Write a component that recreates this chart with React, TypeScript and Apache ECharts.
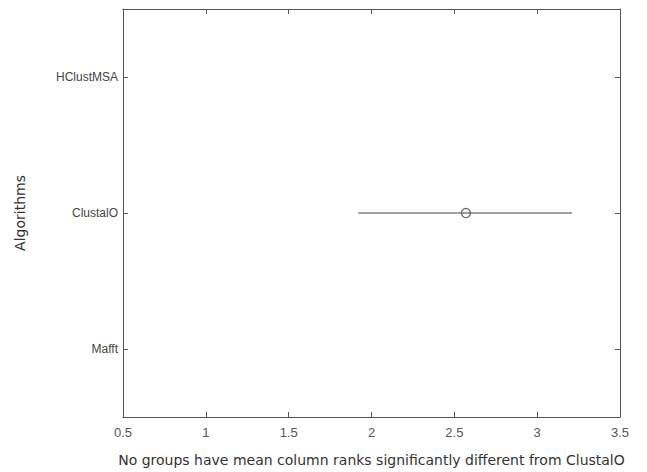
import React, { useEffect, useRef } from "react";
import * as echarts from "echarts";

const categories = ["Mafft", "ClustalO", "HClustMSA"];
const xTicks = [0.5, 1, 1.5, 2, 2.5, 3, 3.5];
const intervalGroup = "ClustalO";
const intervalLow = 1.92;
const intervalHigh = 3.21;
const meanRank = 2.57;
const xAxisTitle = "No groups have mean column ranks significantly different from ClustalO";
const yAxisTitle = "Algorithms";

export default function App() {
  const ref = useRef<HTMLDivElement>(null);
  useEffect(() => {
    document.body.style.margin = "0";
    const chart = echarts.init(ref.current!, null, { renderer: "svg" });
    const font = "'Liberation Sans', Arial, sans-serif";
    const titleFont = "'DejaVu Sans', sans-serif";
    const lineStyle = { color: "#555", width: 1 };
    chart.setOption({
      animation: false,
      backgroundColor: "#fff",
      grid: { left: 123, right: 27, top: 9, bottom: 50, containLabel: false },
      xAxis: [
        {
          type: "value",
          min: xTicks[0],
          max: xTicks[xTicks.length - 1],
          interval: 0.5,
          position: "bottom",
          axisLine: { show: true, lineStyle },
          axisTick: { show: true, inside: true, length: 5, lineStyle },
          splitLine: { show: false },
          axisLabel: { color: "#555", fontSize: 13, fontFamily: font, margin: 9 },
          name: xAxisTitle,
          nameLocation: "middle",
          nameGap: 36,
          nameTextStyle: { color: "#333", fontSize: 14, fontFamily: titleFont },
        },
        {
          type: "value",
          min: xTicks[0],
          max: xTicks[xTicks.length - 1],
          interval: 0.5,
          position: "top",
          axisLine: { show: true, lineStyle },
          axisTick: { show: true, inside: true, length: 5, lineStyle },
          splitLine: { show: false },
          axisLabel: { show: false },
        },
      ],
      yAxis: [
        {
          type: "category",
          data: categories,
          position: "left",
          boundaryGap: true,
          axisLine: { show: true, lineStyle },
          axisTick: { show: true, inside: true, length: 5, alignWithLabel: true, lineStyle },
          splitLine: { show: false },
          axisLabel: { color: "#444", fontSize: 12, fontFamily: font, margin: 5 },
          name: yAxisTitle,
          nameLocation: "middle",
          nameGap: 96,
          nameRotate: 90,
          nameTextStyle: { color: "#333", fontSize: 14, fontFamily: titleFont },
        },
        {
          type: "category",
          data: categories,
          position: "right",
          boundaryGap: true,
          axisLine: { show: true, lineStyle },
          axisTick: { show: true, inside: true, length: 5, alignWithLabel: true, lineStyle },
          splitLine: { show: false },
          axisLabel: { show: false },
        },
      ],
      series: [
        {
          type: "line",
          xAxisIndex: 0,
          yAxisIndex: 0,
          symbol: "none",
          lineStyle: { color: "#444", width: 1.2 },
          data: [
            [intervalLow, intervalGroup],
            [intervalHigh, intervalGroup],
          ],
        },
        {
          type: "scatter",
          xAxisIndex: 0,
          yAxisIndex: 0,
          symbol: "circle",
          symbolSize: 9,
          itemStyle: { color: "#fff", borderColor: "#444", borderWidth: 1.2 },
          data: [[meanRank, intervalGroup]],
        },
      ],
    });
    return () => chart.dispose();
  }, []);
  return <div ref={ref} style={{ width: 647, height: 472 }} />;
}
